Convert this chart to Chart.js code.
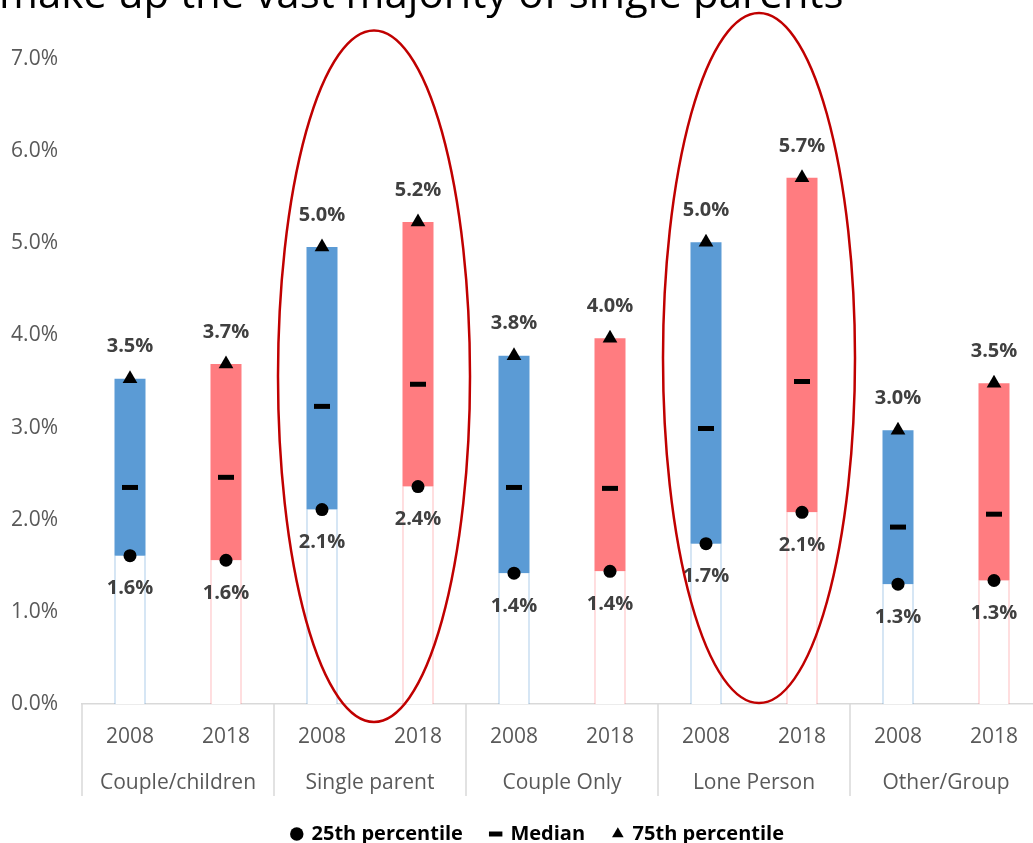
<!DOCTYPE html>
<html>
<head>
<meta charset="utf-8">
<script src="https://cdn.jsdelivr.net/npm/chart.js@4/dist/chart.umd.min.js"></script>
<style>
  html, body { margin: 0; padding: 0; width: 1033px; height: 843px; overflow: hidden; background: #fff; }
  #frame { position: relative; width: 1033px; height: 843px; overflow: hidden; }
  #chart { position: absolute; left: 0; top: 0; }
</style>
</head>
<body>
<div id="frame"><canvas id="chart" width="1076" height="854"></canvas></div>
<script>
// ---- data ----
const titleText = 'make up the vast majority of single parents';
const categories = ['Couple/children', 'Single parent', 'Couple Only', 'Lone Person', 'Other/Group'];
const years = ['2008', '2018'];
const yearLabels = categories.flatMap(() => years);
// percentiles (%), one value per category/year pair
const p25    = [1.61, 1.56, 2.11, 2.36, 1.42, 1.44, 1.74, 2.08, 1.30, 1.34];
const median = [2.35, 2.46, 3.23, 3.47, 2.35, 2.34, 2.99, 3.50, 1.92, 2.06];
const p75    = [3.53, 3.69, 4.96, 5.23, 3.78, 3.97, 5.01, 5.71, 2.97, 3.48];
const legendLabels = ['25th percentile', 'Median', '75th percentile'];
const highlightedCategories = [1, 3];

// ---- styling ----
const FONT = '"Open Sans", "DejaVu Sans", sans-serif';
const yearFill = ['#5B9BD5', '#FF7C80'];
const yearEdge = ['#5B9BD5', '#FF7C80'];
const byYear = (arr) => (ctx) => arr[ctx.dataIndex % 2];
const pct = (v) => v.toFixed(1) + '%';

// ellipse annotations: vertical extent in axis units, small horizontal nudge in px
const ellipseSpec = [
  { top: 7.31, bottom: -0.195, dx: 4 },
  { top: 7.50, bottom: 0.01, dx: 5 }
];

const titlePlugin = {
  id: 'clippedTitle',
  afterDraw(chart) {
    const ctx = chart.ctx;
    ctx.save();
    ctx.font = '400 42px ' + FONT;
    ctx.fillStyle = '#000';
    ctx.textBaseline = 'alphabetic';
    ctx.textAlign = 'left';
    ctx.fillText(titleText, -1, 8);
    ctx.restore();
  }
};

const separatorPlugin = {
  id: 'categorySeparators',
  afterDraw(chart) {
    const x = chart.scales.x, x2 = chart.scales.x2;
    const slot = x.getPixelForValue(1) - x.getPixelForValue(0);
    const ctx = chart.ctx;
    ctx.save();
    ctx.strokeStyle = '#D9D9D9';
    ctx.lineWidth = 1.5;
    for (let k = 0; k <= categories.length; k++) {
      const px = x.getPixelForValue(0) - slot / 2 + k * 2 * slot;
      ctx.beginPath();
      ctx.moveTo(px, x.top);
      ctx.lineTo(px, x2.bottom);
      ctx.stroke();
    }
    ctx.restore();
  }
};

const valueLabelPlugin = {
  id: 'valueLabels',
  afterDatasetsDraw(chart) {
    const ctx = chart.ctx;
    ctx.save();
    ctx.font = '700 20px ' + FONT;
    ctx.fillStyle = '#404040';
    ctx.textAlign = 'center';
    ctx.textBaseline = 'middle';
    const hi = chart.getDatasetMeta(4).data;
    const lo = chart.getDatasetMeta(2).data;
    hi.forEach((pt, i) => ctx.fillText(pct(p75[i]), pt.x, pt.y - 32));
    lo.forEach((pt, i) => ctx.fillText(pct(p25[i]), pt.x, pt.y + 33));
    ctx.restore();
  }
};

const ellipsePlugin = {
  id: 'highlightEllipses',
  afterDatasetsDraw(chart) {
    const x = chart.scales.x, y = chart.scales.y;
    const slot = x.getPixelForValue(1) - x.getPixelForValue(0);
    const ctx = chart.ctx;
    ctx.save();
    ctx.strokeStyle = '#C00000';
    ctx.lineWidth = 2.5;
    highlightedCategories.forEach((c, k) => {
      const s = ellipseSpec[k];
      const cx = (x.getPixelForValue(2 * c) + x.getPixelForValue(2 * c + 1)) / 2 + s.dx;
      const yt = y.getPixelForValue(s.top), yb = y.getPixelForValue(s.bottom);
      ctx.beginPath();
      ctx.ellipse(cx, (yt + yb) / 2, slot, (yb - yt) / 2, 0, 0, Math.PI * 2);
      ctx.stroke();
    });
    ctx.restore();
  }
};

const markerBase = { type: 'line', showLine: false, xAxisID: 'x', yAxisID: 'y', order: 1,
  pointBackgroundColor: '#000', pointBorderColor: '#000', pointHoverRadius: 0 };

new Chart(document.getElementById('chart'), {
  data: {
    labels: yearLabels,
    datasets: [
      { type: 'bar', label: 'base', xAxisID: 'x', yAxisID: 'y', order: 2,
        data: p25.map(v => [0, v]),
        backgroundColor: '#FFFFFF', borderColor: byYear(yearEdge),
        borderWidth: { left: 1, right: 1, top: 0, bottom: 0 }, borderSkipped: false,
        barPercentage: 0.323, categoryPercentage: 1 },
      { type: 'bar', label: 'range', xAxisID: 'x', yAxisID: 'y', order: 2,
        data: p25.map((v, i) => [v, p75[i]]),
        backgroundColor: byYear(yearFill), borderWidth: 0,
        barPercentage: 0.323, categoryPercentage: 1 },
      { ...markerBase, label: legendLabels[0], data: p25,
        pointStyle: 'circle', pointRadius: 6.5, pointBorderWidth: 0 },
      { ...markerBase, label: legendLabels[1], data: median,
        pointStyle: 'line', pointRadius: 8, pointBorderWidth: 5 },
      { ...markerBase, label: legendLabels[2], data: p75,
        pointStyle: 'triangle', pointRadius: 8.5, pointBorderWidth: 0 }
    ]
  },
  options: {
    responsive: false,
    animation: false,
    devicePixelRatio: 1,
    layout: { padding: { top: 59, left: 0, right: 0, bottom: 0 } },
    scales: {
      x: {
        type: 'category', stacked: true, offset: true, weight: 0,
        grid: { display: false, drawTicks: false, tickLength: 0 },
        border: { display: true, color: '#D9D9D9', width: 1.5 },
        ticks: { color: '#595959', font: { family: FONT, size: 21 }, padding: 20, maxRotation: 0, autoSkip: false }
      },
      x2: {
        type: 'category', labels: categories, position: 'bottom', offset: true, weight: 1,
        grid: { display: false, drawTicks: false, tickLength: 0 },
        border: { display: false },
        ticks: { color: '#595959', font: { family: FONT, size: 21 }, padding: 0.8, maxRotation: 0, autoSkip: false }
      },
      y: {
        min: 0, max: 7, stacked: false, position: 'left',
        grid: { display: false, drawTicks: false, tickLength: 0 },
        border: { display: false },
        ticks: { stepSize: 1, color: '#595959', font: { family: FONT, size: 21 }, padding: 24, callback: (v) => pct(v) },
        afterFit: (scale) => { scale.width = 82; }
      },
      // empty right-hand gutter; keeps the plot edge while centring the legend
      gutter: {
        type: 'linear', position: 'right', min: 0, max: 7,
        grid: { display: false, drawTicks: false, tickLength: 0 },
        border: { display: false },
        ticks: { display: false },
        afterFit: (scale) => { scale.width = 34; }
      }
    },
    plugins: {
      tooltip: { enabled: false },
      title: { display: false },
      legend: {
        position: 'bottom',
        onClick: null,
        labels: {
          usePointStyle: true, boxWidth: 9.5, boxHeight: 9.5, padding: 28,
          color: '#595959', font: { family: FONT, size: 20, weight: '700' },
          generateLabels: () => [
            { text: legendLabels[0], pointStyle: 'circle', fillStyle: '#000', strokeStyle: '#000', lineWidth: 0, hidden: false, datasetIndex: 2 },
            { text: legendLabels[1], pointStyle: 'line', fillStyle: '#000', strokeStyle: '#000', lineWidth: 5, hidden: false, datasetIndex: 3 },
            { text: legendLabels[2], pointStyle: 'triangle', fillStyle: '#000', strokeStyle: '#000', lineWidth: 0, hidden: false, datasetIndex: 4 }
          ]
        }
      }
    }
  },
  plugins: [separatorPlugin, valueLabelPlugin, ellipsePlugin, titlePlugin]
});
</script>
</body>
</html>
